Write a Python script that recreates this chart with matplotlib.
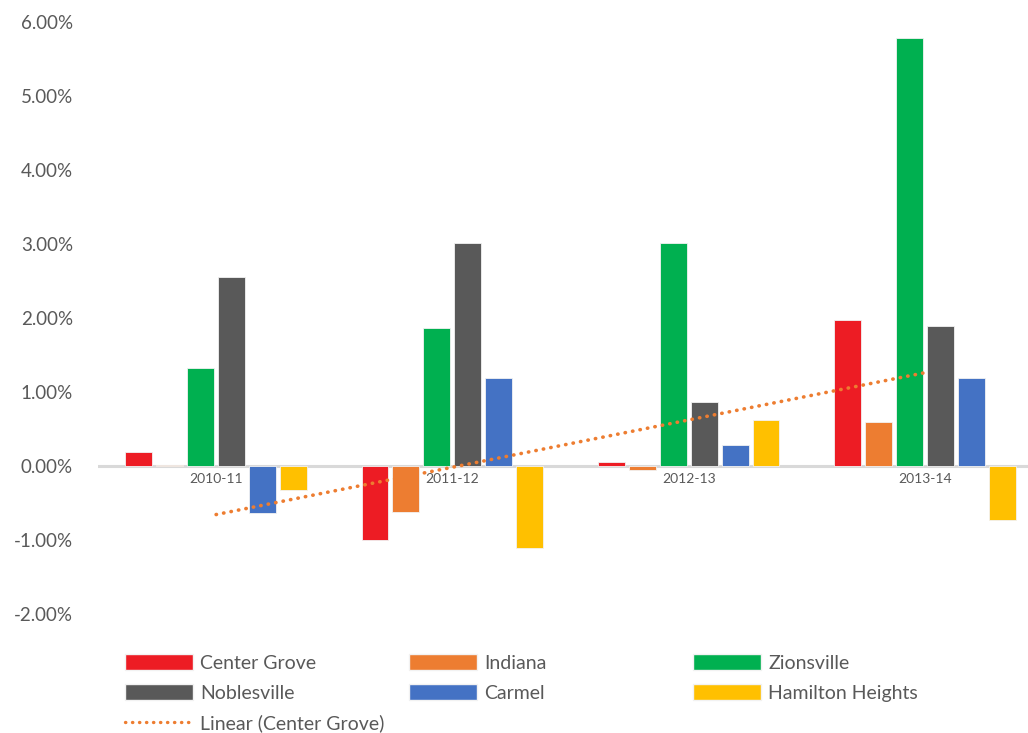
"""
Clustered bar chart: yearly % change by district, with a linear trend
for Center Grove. Excel-style look (no grid, zero axis, legend below).
"""
import matplotlib
matplotlib.use("Agg")
import matplotlib.pyplot as plt
from matplotlib.patches import Patch
from matplotlib.lines import Line2D
from matplotlib.ticker import FuncFormatter
import numpy as np

plt.rcParams["font.family"] = ["Lato", "DejaVu Sans"]

# ── Data (percent change) ────────────────────────────────────
years = ["2010-11", "2011-12", "2012-13", "2013-14"]
center_grove = [0.19, -1.00, 0.05, 1.97]
indiana = [0.02, -0.62, -0.05, 0.60]
zionsville = [1.33, 1.87, 3.01, 5.78]
noblesville = [2.55, 3.01, 0.86, 1.89]
carmel = [-0.64, 1.19, 0.29, 1.19]
hamilton_heights = [-0.32, -1.11, 0.62, -0.73]

series = [
    ("Center Grove", center_grove, "#ED1C24"),
    ("Indiana", indiana, "#ED7D31"),
    ("Zionsville", zionsville, "#00B050"),
    ("Noblesville", noblesville, "#595959"),
    ("Carmel", carmel, "#4472C4"),
    ("Hamilton Heights", hamilton_heights, "#FFC000"),
]
TXT = "#595959"

fig = plt.figure(figsize=(10.28, 7.33), dpi=100)
ax = fig.add_axes([98 / 1028, 119 / 733, 945 / 1028, 592 / 733])

x = np.arange(len(years))
step = 0.131
width = 0.114
for i, (name, vals, col) in enumerate(series):
    ax.bar(x + (i - 2.5) * step, vals, width, color=col,
           edgecolor="#f2f2f2", lw=0.6, zorder=2)

# linear trend (Center Grove)
k, b = np.polyfit(x, center_grove, 1)
ax.plot(x, k * x + b, color="#ED7D31", lw=2.6,
        linestyle=(0, (0.1, 2.0)), dash_capstyle="round", zorder=3)

ax.set_xlim(-0.5, 3.5)
ax.set_ylim(-2, 6)
ax.set_yticks(np.arange(-2, 7, 1))
ax.yaxis.set_major_formatter(FuncFormatter(lambda v, _: f"{v:.2f}%"))
ax.tick_params(axis="y", length=0, labelsize=13.5, labelcolor=TXT, pad=18)
ax.tick_params(axis="x", length=0, labelbottom=False)
ax.set_xticks(x)

for s in ["top", "right", "left", "bottom"]:
    ax.spines[s].set_visible(False)
ax.axhline(0, color="#d9d9d9", lw=2.2, zorder=1)

for xi, lab in zip(x, years):
    ax.text(xi, -0.18, lab, ha="center", va="center", fontsize=10,
            color=TXT, zorder=1)

# ── Legend: three columns placed like the Excel layout ───────
def patch(col):
    return Patch(facecolor=col, edgecolor="#f2f2f2")

trend = Line2D([], [], color="#ED7D31", lw=2.4, linestyle=(0, (0.1, 2.0)),
               dash_capstyle="round")
cols = [
    ([patch(series[0][2]), patch(series[3][2]), trend],
     [series[0][0], series[3][0], "Linear (Center Grove)"], 125),
    ([patch(series[1][2]), patch(series[4][2])],
     [series[1][0], series[4][0]], 409),
    ([patch(series[2][2]), patch(series[5][2])],
     [series[2][0], series[5][0]], 693),
]
for handles, labels, px in cols:
    leg = fig.legend(handles, labels, loc="upper left",
                     bbox_to_anchor=(px / 1028, 1 - 654 / 733),
                     frameon=False, fontsize=14, handlelength=3.5,
                     handleheight=0.88, handletextpad=0.38,
                     labelspacing=0.64, borderpad=0, borderaxespad=0,
                     labelcolor=TXT)

fig.savefig("out.png", dpi=100)
